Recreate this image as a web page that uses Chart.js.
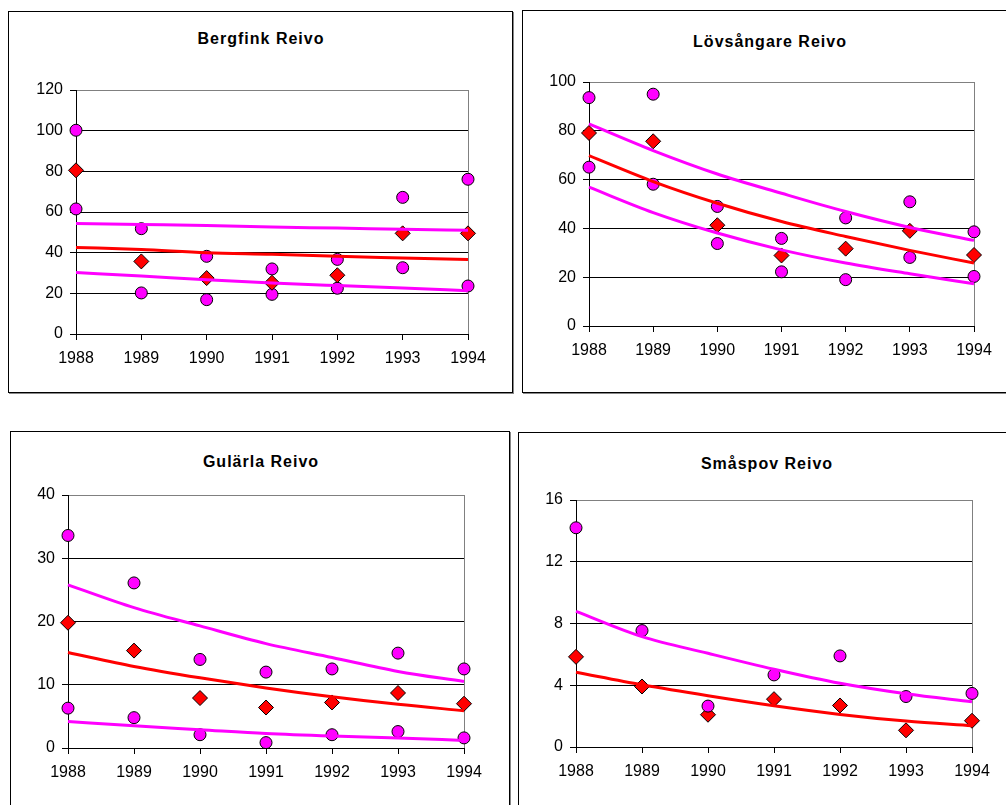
<!DOCTYPE html>
<html>
<head>
<meta charset="utf-8">
<title>Reivo</title>
<script src="https://cdn.jsdelivr.net/npm/chart.js@4/dist/chart.umd.min.js"></script>
<style>
  html, body { margin: 0; padding: 0; background: #fff; }
  #page { position: relative; width: 1006px; height: 805px; overflow: hidden; background: #fff; }
  .box { position: absolute; box-sizing: border-box; border: 1px solid #000; box-shadow: 1px 1px 0 #888; background: #fff; }
  .ttl { position: absolute; font: bold 16px 'Liberation Sans', Arial, sans-serif; letter-spacing: 1px;
         line-height: 16px; white-space: nowrap; transform: translateX(-50%); color: #000; }
  canvas { position: absolute; }
</style>
</head>
<body>
<div id="page">
  <div class="box" style="left:8px;top:11px;width:505px;height:382px;"></div>
  <div class="box" style="left:522px;top:10px;width:495px;height:383px;"></div>
  <div class="box" style="left:10px;top:431px;width:500px;height:390px;"></div>
  <div class="box" style="left:518px;top:432px;width:499px;height:390px;"></div>

  <div class="ttl" style="left:261px;top:31px;">Bergfink Reivo</div>
  <div class="ttl" style="left:770px;top:34px;">Lövsångare Reivo</div>
  <div class="ttl" style="left:261px;top:454px;">Gulärla Reivo</div>
  <div class="ttl" style="left:767px;top:456px;">Småspov Reivo</div>

  <canvas id="c1" style="left:9px;top:12px;" width="502" height="379"></canvas>
  <canvas id="c2" style="left:523px;top:11px;" width="483" height="380"></canvas>
  <canvas id="c3" style="left:11px;top:432px;" width="497" height="373"></canvas>
  <canvas id="c4" style="left:519px;top:433px;" width="487" height="372"></canvas>
</div>
<script>
// Years on the x axis
const years = ['1988', '1989', '1990', '1991', '1992', '1993', '1994'];

// Bergfink Reivo
const bergfinkHigh = [100.2, 51.8, 38.2, 32.0, 36.7, 67.2, 76.1];
const bergfinkMean = [80.5, 35.7, 27.5, 25.2, 28.9, 49.5, 49.5];
const bergfinkLow = [61.5, 20.2, 16.9, 19.5, 22.5, 32.6, 23.6];
const bergfinkTrendHigh = [54.4, 53.9, 53.4, 52.6, 52.1, 51.5, 51.0];
const bergfinkTrend = [42.6, 41.5, 40.0, 39.2, 38.2, 37.4, 36.6];
const bergfinkTrendLow = [30.2, 28.5, 26.7, 25.1, 23.8, 22.6, 21.3];
const bergfinkAxis = [0, 120, 20];

// Lövsångare Reivo
const lovsangareHigh = [93.6, 95.0, 49.0, 35.9, 44.3, 50.9, 38.6];
const lovsangareMean = [79.1, 75.7, 41.3, 28.9, 31.7, 39.0, 29.1];
const lovsangareLow = [65.1, 58.1, 33.8, 22.2, 19.0, 28.1, 20.3];
const lovsangareTrendHigh = [82.8, 71.9, 62.3, 54.4, 46.9, 40.4, 35.1];
const lovsangareTrend = [69.8, 59.2, 50.3, 42.8, 36.7, 31.0, 25.8];
const lovsangareTrendLow = [56.9, 46.5, 38.1, 31.2, 25.8, 21.4, 17.3];
const lovsangareAxis = [0, 100, 20];

// Gulärla Reivo
const gularlaHigh = [33.6, 26.1, 14.0, 12.0, 12.5, 15.0, 12.5];
const gularlaMean = [19.8, 15.4, 7.9, 6.4, 7.2, 8.7, 7.0];
const gularlaLow = [6.3, 4.8, 2.1, 0.85, 2.1, 2.6, 1.6];
const gularlaTrendHigh = [25.8, 22.2, 19.3, 16.5, 14.3, 12.1, 10.5];
const gularlaTrend = [15.1, 12.9, 11.1, 9.5, 8.1, 6.9, 5.9];
const gularlaTrendLow = [4.2, 3.5, 2.9, 2.3, 1.9, 1.6, 1.2];
const gularlaAxis = [0, 40, 10];

// Småspov Reivo
const smaspovHigh = [14.2, 7.54, 2.65, 4.67, 5.9, 3.27, 3.47];
const smaspovMean = [5.84, 3.92, 2.09, 3.1, 2.69, 1.08, 1.7];
const smaspovTrendHigh = [8.79, 7.15, 6.07, 5.04, 4.13, 3.45, 2.93];
const smaspovTrend = [4.84, 4.03, 3.32, 2.67, 2.11, 1.68, 1.38];
const smaspovAxis = [0, 16, 4];

const MAGENTA = '#FF00FF';
const RED = '#FF0000';

Chart.defaults.font.family = "'Liberation Sans', Arial, sans-serif";
Chart.defaults.font.size = 16;
Chart.defaults.color = '#000';

function trendLine(values, color) {
  return {
    data: values, borderColor: color, backgroundColor: color, borderWidth: 3,
    pointRadius: 0, pointHoverRadius: 0, fill: false,
    cubicInterpolationMode: 'monotone', clip: false
  };
}
function circles(values) {
  return {
    data: values, showLine: false, pointStyle: 'circle', pointRadius: 6,
    pointBackgroundColor: MAGENTA, pointBorderColor: '#000', pointBorderWidth: 1, clip: false
  };
}
function diamonds(values) {
  return {
    data: values, showLine: false, pointStyle: 'rectRot', pointRadius: 7.5,
    pointBackgroundColor: RED, pointBorderColor: '#000', pointBorderWidth: 1, clip: false
  };
}

function makeChart(id, axis, datasets, pad) {
  const [yMin, yMax, yStep] = axis;
  return new Chart(document.getElementById(id), {
    type: 'line',
    data: { labels: years, datasets: datasets },
    options: {
      responsive: false, animation: false,
      events: [],
      layout: { padding: pad },
      plugins: { legend: { display: false }, title: { display: false }, tooltip: { enabled: false } },
      scales: {
        x: {
          type: 'category', offset: false,
          afterFit: (s) => { s.height = 40; },
          border: { display: true, color: '#000', width: 1 },
          grid: {
            drawOnChartArea: true, drawTicks: true, tickLength: 6,
            color: (c) => (c.index === years.length - 1 ? '#808080' : 'rgba(0,0,0,0)'),
            tickColor: '#000', lineWidth: 1
          },
          ticks: { padding: 9, maxRotation: 0, autoSkip: false, color: '#000' }
        },
        y: {
          min: yMin, max: yMax,
          afterFit: (s) => { s.width = 50; },
          border: { display: true, color: '#000', width: 1 },
          grid: {
            drawTicks: true, tickLength: 6,
            color: (c) => (c.tick && c.tick.value === yMax ? '#808080' : '#000'),
            tickColor: '#000', lineWidth: 1
          },
          ticks: { stepSize: yStep, padding: 7, color: '#000' }
        }
      }
    }
  });
}

makeChart('c1', bergfinkAxis, [
  trendLine(bergfinkTrendHigh, MAGENTA),
  trendLine(bergfinkTrend, RED),
  trendLine(bergfinkTrendLow, MAGENTA),
  circles(bergfinkHigh),
  diamonds(bergfinkMean),
  circles(bergfinkLow)
], { top: 78, left: 17, right: 43, bottom: 17 });

makeChart('c2', lovsangareAxis, [
  trendLine(lovsangareTrendHigh, MAGENTA),
  trendLine(lovsangareTrend, RED),
  trendLine(lovsangareTrendLow, MAGENTA),
  circles(lovsangareHigh),
  diamonds(lovsangareMean),
  circles(lovsangareLow)
], { top: 71, left: 16, right: 32, bottom: 25 });

makeChart('c3', gularlaAxis, [
  trendLine(gularlaTrendHigh, MAGENTA),
  trendLine(gularlaTrend, RED),
  trendLine(gularlaTrendLow, MAGENTA),
  circles(gularlaHigh),
  diamonds(gularlaMean),
  circles(gularlaLow)
], { top: 63, left: 7, right: 44, bottom: 17 });

makeChart('c4', smaspovAxis, [
  trendLine(smaspovTrendHigh, MAGENTA),
  trendLine(smaspovTrend, RED),
  circles(smaspovHigh),
  diamonds(smaspovMean)
], { top: 67, left: 7, right: 34, bottom: 18 });
</script>
</body>
</html>
